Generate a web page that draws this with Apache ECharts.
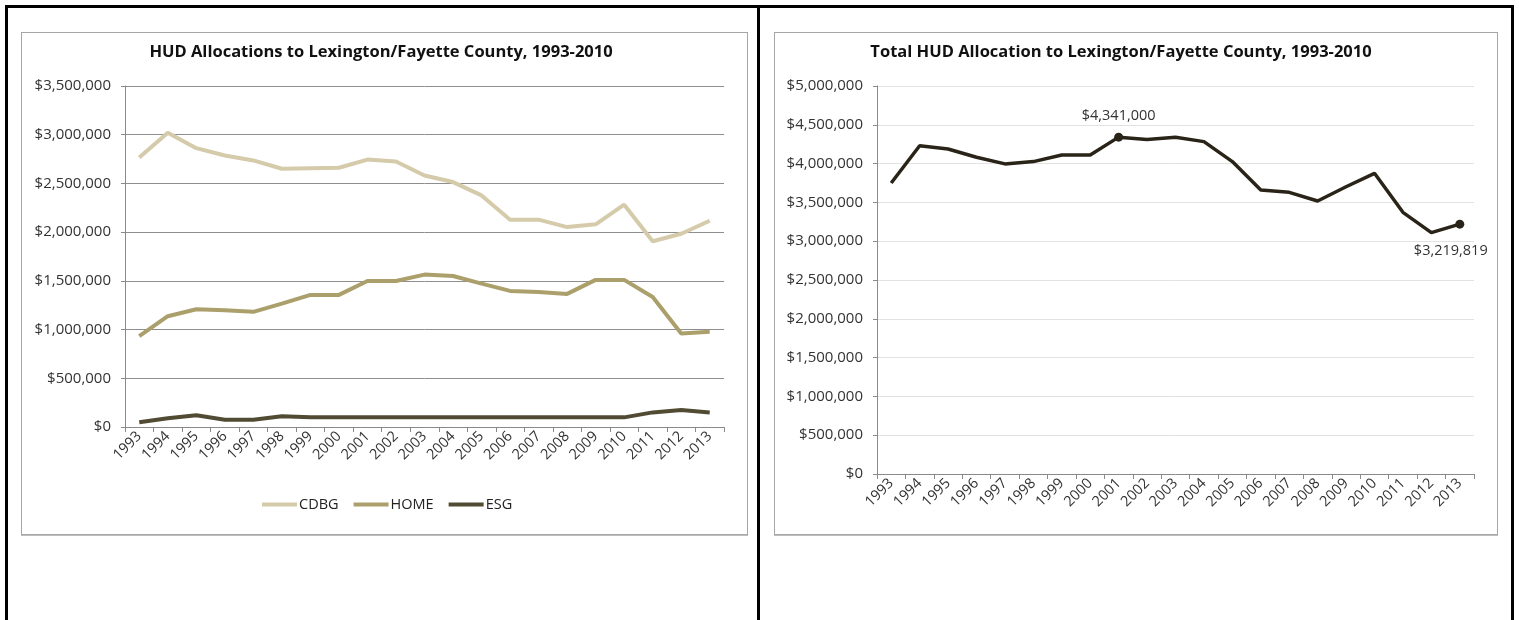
<!DOCTYPE html>
<html>
<head>
<meta charset="utf-8">
<script src="https://cdn.jsdelivr.net/npm/echarts@6/dist/echarts.min.js"></script>
<style>
  html, body { margin: 0; padding: 0; background: #fff; width: 1519px; height: 620px; overflow: hidden; }
  .blk { position: absolute; background: #000; }
  .box { position: absolute; border: 1px solid #a6a6a6; box-shadow: 0 1px 0 #bdbdbd; box-sizing: border-box; }
  #chart { position: absolute; left: 0; top: 0; width: 1519px; height: 620px; }
</style>
</head>
<body>
<div class="blk" style="left:5px;top:5px;width:3px;height:615px;"></div>
<div class="blk" style="left:5px;top:5px;width:1509px;height:3px;"></div>
<div class="blk" style="left:757px;top:5px;width:3px;height:615px;"></div>
<div class="blk" style="left:1511px;top:5px;width:3px;height:615px;"></div>
<div class="box" style="left:21px;top:32px;width:727px;height:503px;"></div>
<div class="box" style="left:774px;top:32px;width:724px;height:503px;"></div>
<div id="chart"></div>
<script>
// ---- data ----
const years = ['1993','1994','1995','1996','1997','1998','1999','2000','2001','2002','2003',
               '2004','2005','2006','2007','2008','2009','2010','2011','2012','2013'];
const cdbg = [2766000, 3020000, 2862000, 2787000, 2736000, 2651000, 2657000, 2661000, 2745000, 2725000, 2582000,
              2514000, 2377000, 2128000, 2128000, 2052000, 2080000, 2282000, 1906000, 1984000, 2117000];
const home = [932000, 1137000, 1209000, 1199000, 1182000, 1267000, 1356000, 1356000, 1499000, 1499000, 1564000,
              1550000, 1472000, 1397000, 1386000, 1366000, 1510000, 1510000, 1335000, 960000, 977000];
const esg  = [48000, 89000, 120000, 75000, 75000, 110000, 99000, 99000, 99000, 99000, 99000,
              99000, 99000, 99000, 99000, 99000, 99000, 99000, 150000, 174000, 150000];
const total = [3750000, 4230000, 4188000, 4082000, 3996000, 4026000, 4111000, 4111000, 4341000, 4311000, 4340000,
               4283000, 4026000, 3660000, 3630000, 3518000, 3702000, 3875000, 3372000, 3110000, 3219819];
const labeledYears = ['2001', '2013'];
const leftTitle = 'HUD Allocations to Lexington/Fayette County, 1993-2010';
const rightTitle = 'Total HUD Allocation to Lexington/Fayette County, 1993-2010';

const FONT = 'Open Sans';
const money = v => '$' + Math.round(v).toLocaleString('en-US');

const chart = echarts.init(document.getElementById('chart'), null, { renderer: 'canvas' });

const totalData = total.map((v, i) => {
  const idx = labeledYears.indexOf(years[i]);
  if (idx < 0) return v;
  return {
    value: v,
    symbol: 'circle',
    symbolSize: 9,
    label: idx === 0
      ? { show: true, position: 'top', distance: 9 }
      : { show: true, position: 'bottom', distance: 15, offset: [-9, 0] }
  };
});

const xAxisCommon = {
  type: 'category',
  data: years,
  boundaryGap: true,
  axisLine: { lineStyle: { color: '#8a8a8a', width: 1 } },
  axisTick: { show: true, length: 5, lineStyle: { color: '#8a8a8a' } },
  axisLabel: { rotate: 45, interval: 0, fontFamily: FONT, fontSize: 14.5, color: '#333', margin: 7 }
};
const yAxisCommon = {
  type: 'value',
  min: 0,
  interval: 500000,
  axisLine: { show: true, lineStyle: { color: '#8a8a8a', width: 1 } },
  axisTick: { show: true, length: 4, lineStyle: { color: '#8a8a8a' } },
  axisLabel: { fontFamily: FONT, fontSize: 15, color: '#333', margin: 14, formatter: money }
};

chart.setOption({
  animation: false,
  backgroundColor: 'transparent',
  title: [
    { text: leftTitle, left: 381, top: 44, padding: 0, textAlign: 'center',
      textStyle: { fontFamily: FONT, fontSize: 16.5, fontWeight: 'bold', color: '#111' } },
    { text: rightTitle, left: 1121, top: 44, padding: 0, textAlign: 'center',
      textStyle: { fontFamily: FONT, fontSize: 16.5, fontWeight: 'bold', color: '#111' } }
  ],
  legend: {
    data: ['CDBG', 'HOME', 'ESG'],
    left: 262, top: 497, padding: 0,
    icon: 'rect', itemWidth: 35, itemHeight: 4, itemGap: 15,
    textStyle: { fontFamily: FONT, fontSize: 14.5, color: '#222', padding: [0, 0, 0, -3] }
  },
  grid: [
    { left: 125, top: 86, width: 599, height: 341 },
    { left: 877, top: 86, width: 597, height: 388 }
  ],
  xAxis: [
    Object.assign({ gridIndex: 0 }, xAxisCommon),
    Object.assign({ gridIndex: 1 }, xAxisCommon)
  ],
  yAxis: [
    Object.assign({ gridIndex: 0, max: 3500000,
      splitLine: { show: true, lineStyle: { color: '#8e8e8e', width: 1 } } }, yAxisCommon),
    Object.assign({ gridIndex: 1, max: 5000000,
      splitLine: { show: true, lineStyle: { color: '#e2e2e2', width: 1 } } }, yAxisCommon)
  ],
  series: [
    { name: 'CDBG', type: 'line', xAxisIndex: 0, yAxisIndex: 0, data: cdbg, showSymbol: false, symbol: 'none',
      color: '#d5cbab', lineStyle: { width: 4, color: '#d5cbab' } },
    { name: 'HOME', type: 'line', xAxisIndex: 0, yAxisIndex: 0, data: home, showSymbol: false, symbol: 'none',
      color: '#ab9f6c', lineStyle: { width: 4, color: '#ab9f6c' } },
    { name: 'ESG', type: 'line', xAxisIndex: 0, yAxisIndex: 0, data: esg, showSymbol: false, symbol: 'none',
      color: '#514b34', lineStyle: { width: 4, color: '#514b34' } },
    { name: 'Total', type: 'line', xAxisIndex: 1, yAxisIndex: 1, data: totalData,
      symbol: 'none', showSymbol: true,
      color: '#2a2418', itemStyle: { color: '#2a2418' },
      lineStyle: { width: 3.5, color: '#2a2418' },
      label: { fontFamily: FONT, fontSize: 14.5, color: '#333', formatter: p => money(p.value) } }
  ]
});
</script>
</body>
</html>
